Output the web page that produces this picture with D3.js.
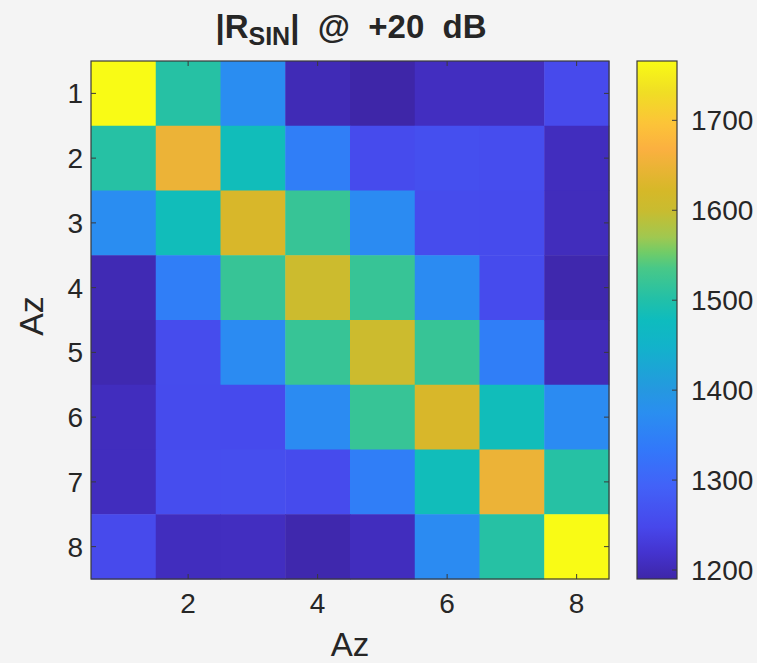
<!DOCTYPE html>
<html>
<head>
<meta charset="utf-8">
<script src="https://cdn.jsdelivr.net/npm/d3@7"></script>
<style>
  html, body { margin: 0; padding: 0; background: #f4f4f4; }
  svg { display: block; }
  text { font-family: "Liberation Sans", Arial, Helvetica, sans-serif; fill: #262626; }
</style>
</head>
<body>
<svg id="chart" width="757" height="663"></svg>
<script>
// Axis categories (azimuth indices)
const rowsAz = [1, 2, 3, 4, 5, 6, 7, 8];
const colsAz = [1, 2, 3, 4, 5, 6, 7, 8];

// |R_SIN| magnitude, one array per row
const row1 = [1766, 1505, 1372, 1200, 1190, 1208, 1207, 1252];
const row2 = [1505, 1650, 1482, 1345, 1255, 1262, 1258, 1206];
const row3 = [1372, 1482, 1625, 1520, 1368, 1256, 1255, 1205];
const row4 = [1199, 1345, 1520, 1605, 1520, 1368, 1255, 1194];
const row5 = [1196, 1256, 1368, 1520, 1605, 1520, 1345, 1202];
const row6 = [1206, 1255, 1253, 1368, 1520, 1625, 1482, 1368];
const row7 = [1206, 1258, 1259, 1255, 1345, 1482, 1650, 1505];
const row8 = [1252, 1206, 1208, 1194, 1206, 1368, 1505, 1766];
const matrix = [row1, row2, row3, row4, row5, row6, row7, row8];

// Tick labels
const xTicks = [2, 4, 6, 8];
const yTicks = [1, 2, 3, 4, 5, 6, 7, 8];
const cbTicks = [1200, 1300, 1400, 1500, 1600, 1700];

// Parula-like colormap: stop position (0..1) and colour
const cmapPos = [0.00, 0.05, 0.10, 0.18, 0.25, 0.32, 0.365, 0.45, 0.50, 0.54, 0.60, 0.63, 0.66, 0.71, 0.75, 0.83, 0.88, 0.94, 1.00];
const cmapCol = ["#3e26a8", "#4433cf", "#4747eb", "#4262f8", "#3278fa", "#2a8ef0", "#2598e0", "#12b3ca", "#0ebcbe", "#22c0a8",
                 "#48c888", "#70cc68", "#a0c850", "#c8bc30", "#d6b828", "#fbb040", "#fcc438", "#f0de24", "#f9fb15"];

const svg = d3.select("#chart");
const W = 757, H = 663;
svg.append("rect").attr("width", W).attr("height", H).attr("fill", "#f4f4f4");

const plot = { left: 91, top: 61, right: 609, bottom: 579 };
const cb = { left: 637, right: 677 };

const flat = matrix.flat();
const vmin = d3.min(flat), vmax = d3.max(flat);

const color = d3.scaleLinear()
  .domain(cmapPos.map(p => vmin + p * (vmax - vmin)))
  .range(cmapCol)
  .interpolate(d3.interpolateRgb)
  .clamp(true);

const x = d3.scaleBand().domain(colsAz).range([plot.left, plot.right]);
const y = d3.scaleBand().domain(rowsAz).range([plot.top, plot.bottom]);

// Heatmap cells
const cells = [];
matrix.forEach((row, i) => row.forEach((v, j) => cells.push({ r: rowsAz[i], c: colsAz[j], v })));
svg.append("g").selectAll("rect").data(cells).join("rect")
  .attr("x", d => x(d.c))
  .attr("y", d => y(d.r))
  .attr("width", x.bandwidth() + 0.5)
  .attr("height", y.bandwidth() + 0.5)
  .attr("fill", d => color(d.v));

// Frame and inward ticks on all four sides
const frameCol = "#3a3a3a";
const tickLen = 5;
const axisFont = 28;

const xPos = d => x(d) + x.bandwidth() / 2;
const yPos = d => y(d) + y.bandwidth() / 2;

const gAx = svg.append("g");
gAx.selectAll(".xt").data(xTicks).join("line")
  .attr("x1", xPos).attr("x2", xPos)
  .attr("y1", plot.bottom).attr("y2", plot.bottom - tickLen)
  .attr("stroke", frameCol).attr("stroke-width", 1);
gAx.selectAll(".xtt").data(xTicks).join("line")
  .attr("x1", xPos).attr("x2", xPos)
  .attr("y1", plot.top).attr("y2", plot.top + tickLen)
  .attr("stroke", frameCol).attr("stroke-width", 1);
gAx.selectAll(".yt").data(yTicks).join("line")
  .attr("y1", yPos).attr("y2", yPos)
  .attr("x1", plot.left).attr("x2", plot.left + tickLen)
  .attr("stroke", frameCol).attr("stroke-width", 1);
gAx.selectAll(".ytr").data(yTicks).join("line")
  .attr("y1", yPos).attr("y2", yPos)
  .attr("x1", plot.right).attr("x2", plot.right - tickLen)
  .attr("stroke", frameCol).attr("stroke-width", 1);

gAx.append("rect")
  .attr("x", plot.left).attr("y", plot.top)
  .attr("width", plot.right - plot.left).attr("height", plot.bottom - plot.top)
  .attr("fill", "none").attr("stroke", frameCol).attr("stroke-width", 1.2);

// Tick labels
gAx.selectAll(".xl").data(xTicks).join("text")
  .attr("x", xPos).attr("y", plot.bottom + 34)
  .attr("text-anchor", "middle")
  .attr("font-size", axisFont)
  .text(d => d);
gAx.selectAll(".yl").data(yTicks).join("text")
  .attr("x", plot.left - 8).attr("y", yPos)
  .attr("dy", "0.36em")
  .attr("text-anchor", "end")
  .attr("font-size", axisFont)
  .text(d => d);

// Axis titles
svg.append("text")
  .attr("x", (plot.left + plot.right) / 2).attr("y", 656)
  .attr("text-anchor", "middle").attr("font-size", 33)
  .text("Az");
svg.append("text")
  .attr("transform", `translate(43, 316) rotate(-90)`)
  .attr("text-anchor", "middle").attr("font-size", 34)
  .text("Az");

// Title with subscript
const title = svg.append("text")
  .attr("x", 351).attr("y", 38)
  .attr("text-anchor", "middle")
  .attr("font-size", 33).attr("font-weight", "bold")
  .style("white-space", "pre");
title.append("tspan").text("|R");
title.append("tspan").attr("font-size", 25).attr("dy", 7).text("SIN");
title.append("tspan").attr("dy", -7).text("|  @  +20  dB");

// Colorbar
const cbScale = d3.scaleLinear().domain([vmin, vmax]).range([plot.bottom, plot.top]);
const defs = svg.append("defs");
const grad = defs.append("linearGradient").attr("id", "cbgrad")
  .attr("x1", 0).attr("y1", 1).attr("x2", 0).attr("y2", 0);
grad.selectAll("stop").data(cmapPos).join("stop")
  .attr("offset", d => d)
  .attr("stop-color", (d, i) => cmapCol[i]);
svg.append("rect")
  .attr("x", cb.left).attr("y", plot.top)
  .attr("width", cb.right - cb.left).attr("height", plot.bottom - plot.top)
  .attr("fill", "url(#cbgrad)")
  .attr("stroke", frameCol).attr("stroke-width", 1.2);

const gcb = svg.append("g");
gcb.selectAll("line").data(cbTicks).join("line")
  .attr("x1", cb.right).attr("x2", cb.right - tickLen)
  .attr("y1", d => cbScale(d)).attr("y2", d => cbScale(d))
  .attr("stroke", frameCol).attr("stroke-width", 1);
gcb.selectAll("text").data(cbTicks).join("text")
  .attr("x", cb.right + 14).attr("y", d => cbScale(d))
  .attr("dy", "0.36em")
  .attr("font-size", axisFont)
  .text(d => d);
</script>
</body>
</html>
